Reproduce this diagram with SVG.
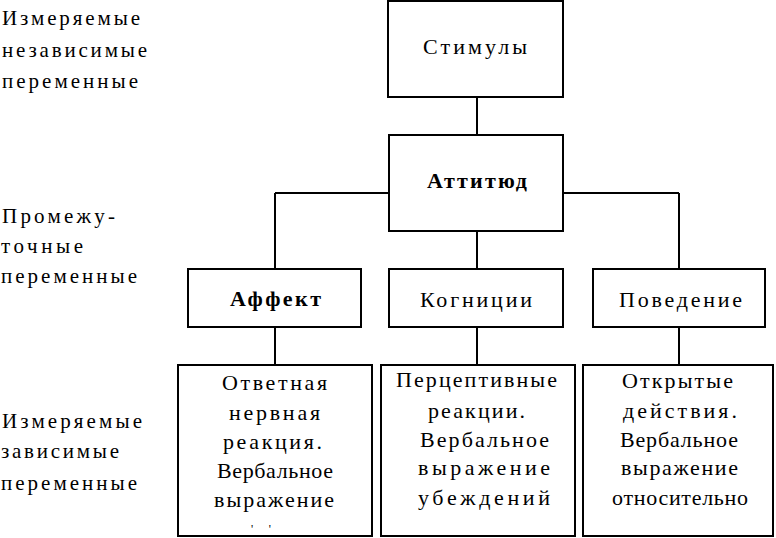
<svg xmlns="http://www.w3.org/2000/svg" width="776" height="538" viewBox="0 0 776 538" font-family="Liberation Serif, DejaVu Serif, serif" font-size="22">
<style>
.box{fill:#fff;stroke:#000;stroke-width:2}
.con{fill:none;stroke:#000;stroke-width:2}
.b{font-weight:bold}
</style>
<rect x="0" y="0" width="776" height="538" fill="#fff"/>
<g id="connectors">
<path class="con" d="M477,97 V135"/>
<path class="con" d="M275,193 H389 M563,193 H679"/>
<path class="con" d="M275,193 V269 M679,193 V269 M477,231 V269"/>
<path class="con" d="M275,327 V365 M477,327 V365 M679,327 V365"/>
</g>
<g id="labels" font-size="21">
<text x="2" y="25" textLength="138">Измеряемые</text>
<text x="2" y="57" textLength="145">независимые</text>
<text x="2" y="88" textLength="136">переменные</text>
<text x="2" y="223" textLength="113">Промежу-</text>
<text x="1" y="253" textLength="82">точные</text>
<text x="1" y="283" textLength="136">переменные</text>
<text x="2" y="428" textLength="140">Измеряемые</text>
<text x="1" y="458" textLength="118">зависимые</text>
<text x="1" y="490" textLength="136">переменные</text>
</g>
<g id="stimuly">
<rect class="box" x="388" y="1" width="175" height="96"/>
<text x="423" y="54" textLength="104">Стимулы</text>
</g>
<g id="attitude">
<rect class="box" x="389" y="135" width="174" height="96"/>
<text class="b" x="427" y="188" textLength="100">Аттитюд</text>
</g>
<g id="affect">
<rect class="box" x="188" y="269" width="173" height="58"/>
<text class="b" x="230" y="306" textLength="91">Аффект</text>
</g>
<g id="cognition">
<rect class="box" x="389" y="269" width="174" height="58"/>
<text x="420" y="307" textLength="112">Когниции</text>
</g>
<g id="behavior">
<rect class="box" x="593" y="269" width="172" height="58"/>
<text x="619" y="307" textLength="123">Поведение</text>
</g>
<g id="affect-measures">
<rect class="box" x="178" y="365" width="194" height="171"/>
<text x="222" y="390" textLength="105">Ответная</text>
<text x="229" y="420" textLength="91">нервная</text>
<text x="223" y="449" textLength="99">реакция.</text>
<text x="217" y="478" textLength="116">Вербальное</text>
<text x="214" y="507" textLength="120">выражение</text>
<text x="251" y="533" font-size="12" textLength="20">' '</text>
</g>
<g id="cognition-measures">
<rect class="box" x="381" y="365" width="194" height="171"/>
<text x="396" y="387" textLength="161">Перцептивные</text>
<text x="428" y="418" textLength="97">реакции.</text>
<text x="420" y="447" textLength="129">Вербальное</text>
<text x="418" y="475" textLength="132">выражение</text>
<text x="418" y="505" textLength="132">убеждений</text>
</g>
<g id="behavior-measures">
<rect class="box" x="583" y="365" width="190" height="171"/>
<text x="622" y="388" textLength="111">Открытые</text>
<text x="623" y="418" textLength="114">действия.</text>
<text x="620" y="447" textLength="118">Вербальное</text>
<text x="621" y="475" textLength="117">выражение</text>
<text x="612" y="505" textLength="136">относительно</text>
</g>
</svg>
